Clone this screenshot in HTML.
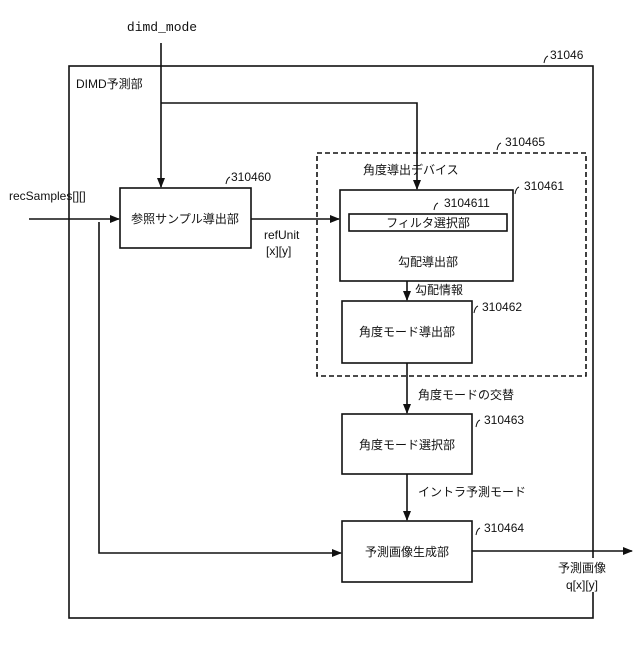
<!DOCTYPE html>
<html><head><meta charset="utf-8"><style>
body{margin:0;background:#fff}
svg text{font-family:"Liberation Sans","Noto Sans CJK JP",sans-serif;font-size:12px;fill:#111}
</style></head><body>
<svg width="640" height="640" viewBox="0 0 640 640" xmlns="http://www.w3.org/2000/svg">
<defs><marker id="a" markerWidth="10" markerHeight="10" refX="9" refY="5" orient="auto" markerUnits="userSpaceOnUse"><path d="M0,1 L10,5 L0,9 z" fill="#111"/></marker></defs>
<g stroke="#111" stroke-width="1.6" fill="none">
<rect x="69" y="66" width="524" height="552"/>
<rect x="317" y="153" width="269" height="223" stroke-dasharray="5,3"/>
<rect x="120" y="188" width="131" height="60" fill="#fff"/>
<rect x="340" y="190" width="173" height="91"/>
<rect x="349" y="214" width="158" height="17"/>
<rect x="342" y="301" width="130" height="62"/>
<rect x="342" y="414" width="130" height="60"/>
<rect x="342" y="521" width="130" height="61"/>
<line x1="161" y1="43" x2="161" y2="187" marker-end="url(#a)"/>
<polyline points="161,103 417,103 417,189" marker-end="url(#a)"/>
<line x1="29" y1="219" x2="119" y2="219" marker-end="url(#a)"/>
<line x1="251" y1="219" x2="339" y2="219" marker-end="url(#a)"/>
<polyline points="99,222 99,553 341,553" marker-end="url(#a)"/>
<line x1="407" y1="281" x2="407" y2="300" marker-end="url(#a)"/>
<line x1="407" y1="363" x2="407" y2="413" marker-end="url(#a)"/>
<line x1="407" y1="474" x2="407" y2="520" marker-end="url(#a)"/>
<line x1="472" y1="551" x2="632" y2="551" marker-end="url(#a)"/>
<path d="M544,63 q1,-6 4,-7 M226,184 q1,-6 4,-7 M497,150 q1,-6 4,-7 M515,194 q1,-6 4,-7 M434,210 q1,-6 4,-7 M474,313 q1,-6 4,-7 M476,427 q1,-6 4,-7 M476,535 q1,-6 4,-7" stroke-width="1"/>
</g>
<rect x="548" y="558" width="60" height="34" fill="#fff"/>
<text x="162" y="31" text-anchor="middle" font-family="Liberation Mono" style="font-family:'Liberation Mono',monospace;font-size:13px">dimd_mode</text>
<text x="550" y="59">31046</text>
<text x="76" y="88">DIMD予測部</text>
<text x="9" y="200">recSamples[][]</text>
<text x="231" y="181">310460</text>
<text x="185" y="223" text-anchor="middle">参照サンプル導出部</text>
<text x="264" y="239">refUnit</text>
<text x="266" y="255">[x][y]</text>
<text x="505" y="146">310465</text>
<text x="363" y="174">角度導出デバイス</text>
<text x="524" y="190">310461</text>
<text x="444" y="207">3104611</text>
<text x="428" y="227" text-anchor="middle">フィルタ選択部</text>
<text x="428" y="266" text-anchor="middle">勾配導出部</text>
<text x="415" y="294">勾配情報</text>
<text x="482" y="311">310462</text>
<text x="407" y="336" text-anchor="middle">角度モード導出部</text>
<text x="418" y="399">角度モードの交替</text>
<text x="484" y="424">310463</text>
<text x="407" y="449" text-anchor="middle">角度モード選択部</text>
<text x="418" y="496">イントラ予測モード</text>
<text x="484" y="532">310464</text>
<text x="407" y="556" text-anchor="middle">予測画像生成部</text>
<text x="582" y="572" text-anchor="middle">予測画像</text>
<text x="582" y="589" text-anchor="middle">q[x][y]</text>
</svg>
</body></html>
